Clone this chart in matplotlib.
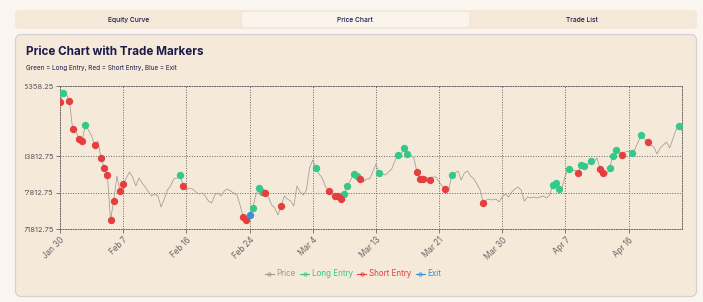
import matplotlib
matplotlib.use("Agg")
import matplotlib.pyplot as plt
from matplotlib.patches import FancyBboxPatch
from matplotlib.lines import Line2D
from matplotlib.transforms import Bbox, TransformedBbox

plt.rcParams['font.family'] = ['Inter', 'DejaVu Sans']

# price samples (evenly spaced bars)
price = [
    92730, 94210, 94040, 92890, 88290, 87960, 86650, 86320, 88950, 88130,
    87140, 85660, 86320, 83530, 81890, 80740, 73340, 76460, 80570, 78110,
    79260, 80240, 81230, 80410, 78930, 80240, 79420, 78760, 77940, 77280,
    77610, 77280, 75480, 76790, 78270, 78930, 80080, 80240, 80740, 78930,
    78270, 78600, 78430, 77940, 77610, 77780, 77280, 76460, 76130, 77450,
    77780, 77280, 78110, 78430, 78110, 77780, 77450, 75810, 73830, 73340,
    74160, 75310, 77450, 78600, 77940, 77780, 77120, 75810, 75310, 74160,
    75640, 77280, 76790, 76460, 75640, 78930, 77940, 77450, 78270, 81890,
    83200, 81890, 80900, 80240, 78930, 78110, 77780, 77280, 77280, 76790,
    77610, 78930, 79910, 80900, 80570, 80080, 79590, 80080, 80080, 81230,
    82540, 81060, 80900, 80740, 81230, 81720, 83040, 84020, 84190, 85170,
    84190, 84020, 83530, 81230, 80080, 80080, 80410, 79910, 80410, 80410,
    79590, 78930, 78430, 78110, 80740, 81060, 81390, 79910, 81060, 81390,
    80570, 80080, 79260, 78270, 76130, 76630, 76790, 76630, 76790, 76300,
    77120, 77610, 77120, 77940, 78430, 78760, 78270, 76460, 77120, 76960,
    77120, 76960, 77120, 77280, 76960, 77450, 79090, 79420, 78430, 78760,
    80740, 81720, 81390, 81560, 81060, 82380, 82210, 82380, 83040, 82870,
    83530, 81720, 81060, 80740, 81890, 83860, 84840, 84510, 84020, 84510,
    84680, 84350, 85010, 86160, 87310, 86650, 86160, 85660, 85340, 84190,
    85170, 85660, 86160, 85170, 86650, 88130, 88790, 87800,
]

# trade markers, as bar indices
long_idx = [1, 8, 38, 61, 63, 64, 81, 90, 91, 93, 94, 101, 107, 109, 110,
            124, 156, 157, 158, 161, 165, 166, 168, 174, 175, 176, 181, 184, 196]
short_idx = [0, 3, 4, 6, 7, 11, 13, 14, 15, 16, 17, 19, 20, 39, 58, 59, 65,
             70, 85, 87, 88, 89, 95, 113, 114, 115, 117, 122, 134, 164, 171,
             172, 178, 186]
exit_idx = [60]

tick_idx = [0, 20, 40, 60, 80, 100, 120, 140, 160, 180]
tick_labels = ['Jan 30', 'Feb 7', 'Feb 16', 'Feb 24', 'Mar 4', 'Mar 13',
               'Mar 21', 'Mar 30', 'Apr 7', 'Apr 16']
y_ticks = [71812.75, 77812.75, 83812.75, 95358.25]

c_price = '#a09b95'
c_long = '#34c98b'
c_short = '#e53e3e'
c_exit = '#3b8fd8'
navy = '#1b1a4d'

W, H = 703, 302
fig = plt.figure(figsize=(W / 100, H / 100), dpi=100)
fig.patch.set_facecolor('#fbf5ef')

# background: tabs + card, drawn in pixel coordinates
bg = fig.add_axes([0, 0, 1, 1], zorder=0)
bg.set_xlim(0, W)
bg.set_ylim(H, 0)
bg.axis('off')
bg.add_patch(FancyBboxPatch((15, 10), 682, 19, boxstyle="round,pad=0,rounding_size=4",
                            fc='#f4e8d8', ec='none'))
bg.add_patch(FancyBboxPatch((242, 12), 227, 15, boxstyle="round,pad=0,rounding_size=3",
                            fc='#fbf4ec', ec='none'))
for tx, tl in [(129, 'Equity Curve'), (355, 'Price Chart'), (582, 'Trade List')]:
    bg.text(tx, 20, tl, ha='center', va='center', fontsize=4.8, color=navy, fontweight='medium')
bg.add_patch(FancyBboxPatch((15.5, 34.5), 681, 262, boxstyle="round,pad=0,rounding_size=6",
                            fc='#f5e9da', ec='#d6d0d6', lw=0.9))
bg.text(26, 52, 'Price Chart with Trade Markers', ha='left', va='center',
        fontsize=8.4, fontweight='bold', color=navy)
bg.text(26, 68, 'Green = Long Entry, Red = Short Entry, Blue = Exit', ha='left',
        va='center', fontsize=4.6, color=navy)

ax = fig.add_axes([60 / W, 1 - 229.3 / H, 622.3 / W, 143.3 / H], zorder=1)
ax.patch.set_alpha(0)
x = list(range(len(price)))
ax.plot(x, price, color=c_price, lw=0.55, zorder=2)
ax.scatter(long_idx, [price[i] for i in long_idx], s=28, color=c_long, zorder=3, lw=0)
ax.scatter(short_idx, [price[i] for i in short_idx], s=28, color=c_short, zorder=3, lw=0)
ax.scatter(exit_idx, [price[i] for i in exit_idx], s=28, color=c_exit, zorder=4, lw=0)

ax.set_xlim(0, len(price) - 1)
ax.set_ylim(y_ticks[0], y_ticks[-1])
ax.set_xticks(tick_idx)
ax.set_xticklabels(tick_labels, rotation=45, ha='right', va='top',
                   rotation_mode='anchor', fontsize=5.8, color='#666666')
ax.set_yticks(y_ticks)
ax.set_yticklabels(['%.2f' % v for v in y_ticks], fontsize=5.4, color='#555555')
ax.tick_params(length=3, width=0.6, color='#666666', pad=1.5)
ax.grid(True, color='#666666', lw=0.7, ls=(0, (1, 1.6)))
for s in ax.spines.values():
    s.set_color('#666666')
    s.set_linewidth(0.7)
    s.set_linestyle((0, (1, 1.6)))

# y labels are cut off by the card's left padding
clip = TransformedBbox(Bbox.from_extents(25 / W, 0, 1, 1), fig.transFigure)
for lab in ax.get_yticklabels():
    lab.set_clip_box(clip)
    lab.set_clip_on(True)

handles = [Line2D([], [], color=c, lw=0.8, marker='o', markersize=2.4,
                  markerfacecolor='none', markeredgewidth=0.6)
           for c in (c_price, c_long, c_short, c_exit)]
fig.legend(handles, ['Price', 'Long Entry', 'Short Entry', 'Exit'],
           loc='center', bbox_to_anchor=(353 / W, 1 - 274 / H), ncol=4,
           frameon=False, fontsize=5.8, labelcolor='linecolor',
           handlelength=1.1, handletextpad=0.3, columnspacing=0.6)

fig.savefig('out.png', dpi=100, facecolor=fig.get_facecolor())
